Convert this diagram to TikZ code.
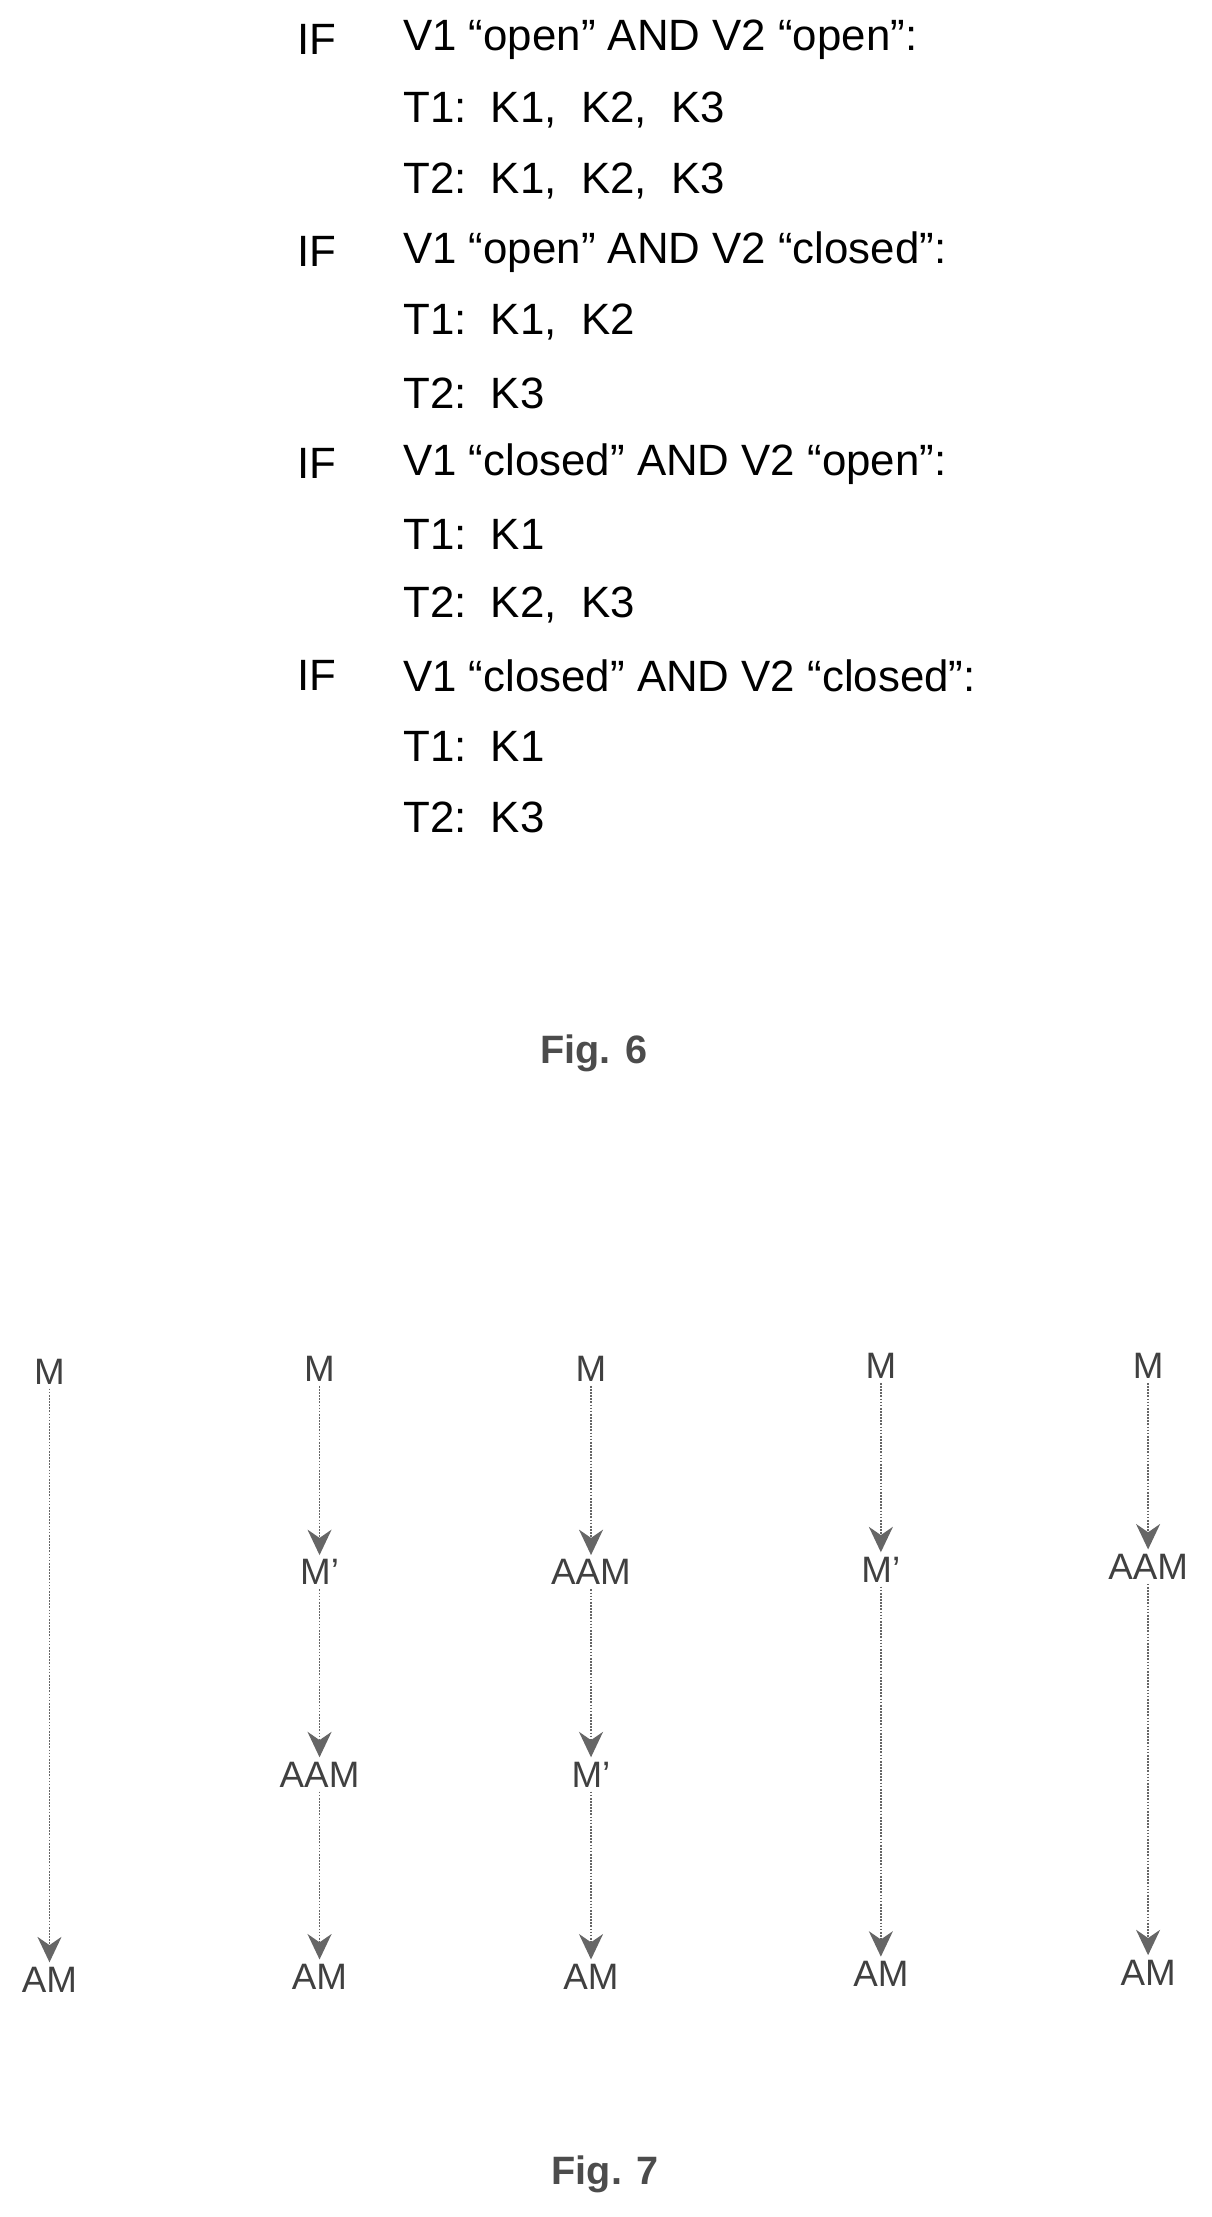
\documentclass[tikz,border=0pt]{standalone}
\usepackage{fontspec}
\setmainfont{Liberation Sans}
\usetikzlibrary{arrows.meta}
\begin{document}
\begin{tikzpicture}[x=1pt,y=-1pt,
  txt/.style={anchor=west,inner sep=0pt,font=\fontsize{31}{34}\selectfont},
  lbl/.style={inner sep=3pt,text=black!75,font=\fontsize{26}{28}\selectfont},
  figlbl/.style={inner sep=0pt,font=\bfseries\fontsize{28}{30}\selectfont,text=black!70},
  arr/.style={densely dotted,gray!80!black,line width=1.2pt,-{Stealth[length=18pt,width=17pt]}}]
\useasboundingbox (0,0) rectangle (857,1568);
% Fig 6
\node[txt] (if1) at (210,28) {IF};
\node[txt] (c1) at (285,28) {V1 “open” AND V2 “open”:};
\node[txt] (c1a) at (285,78) {T1:\ \ K1,\ \ K2,\ \ K3};
\node[txt] (c1b) at (285,128) {T2:\ \ K1,\ \ K2,\ \ K3};
\node[txt] (if2) at (210,178) {IF};
\node[txt] (c2) at (285,178) {V1 “open” AND V2 “closed”:};
\node[txt] (c2a) at (285,228) {T1:\ \ K1,\ \ K2};
\node[txt] (c2b) at (285,278) {T2:\ \ K3};
\node[txt] (if3) at (210,328) {IF};
\node[txt] (c3) at (285,328) {V1 “closed” AND V2 “open”:};
\node[txt] (c3a) at (285,378) {T1:\ \ K1};
\node[txt] (c3b) at (285,428) {T2:\ \ K2,\ \ K3};
\node[txt] (if4) at (210,478) {IF};
\node[txt] (c4) at (285,478) {V1 “closed” AND V2 “closed”:};
\node[txt] (c4a) at (285,528) {T1:\ \ K1};
\node[txt] (c4b) at (285,578) {T2:\ \ K3};
\node[figlbl] (f6) at (420,745) {Fig. 6};
% Fig 7
\node[lbl] (m1) at (35,970) {M};
\node[lbl] (am1) at (35,1400) {AM};
\draw[arr] (m1) -- (am1);
\node[lbl] (m2) at (226,968) {M};
\node[lbl] (mp2) at (226,1112) {M’};
\node[lbl] (aam2) at (226,1255) {AAM};
\node[lbl] (am2) at (226,1398) {AM};
\draw[arr] (m2) -- (mp2);
\draw[arr] (mp2) -- (aam2);
\draw[arr] (aam2) -- (am2);
\node[lbl] (m3) at (418,968) {M};
\node[lbl] (aam3) at (418,1112) {AAM};
\node[lbl] (mp3) at (418,1255) {M’};
\node[lbl] (am3) at (418,1398) {AM};
\draw[arr] (m3) -- (aam3);
\draw[arr] (aam3) -- (mp3);
\draw[arr] (mp3) -- (am3);
\node[lbl] (m4) at (623,966) {M};
\node[lbl] (mp4) at (623,1110) {M’};
\node[lbl] (am4) at (623,1396) {AM};
\draw[arr] (m4) -- (mp4);
\draw[arr] (mp4) -- (am4);
\node[lbl] (m5) at (812,966) {M};
\node[lbl] (aam5) at (812,1108) {AAM};
\node[lbl] (am5) at (812,1395) {AM};
\draw[arr] (m5) -- (aam5);
\draw[arr] (aam5) -- (am5);
\node[figlbl] (f7) at (428,1538) {Fig. 7};
\end{tikzpicture}
\end{document}
